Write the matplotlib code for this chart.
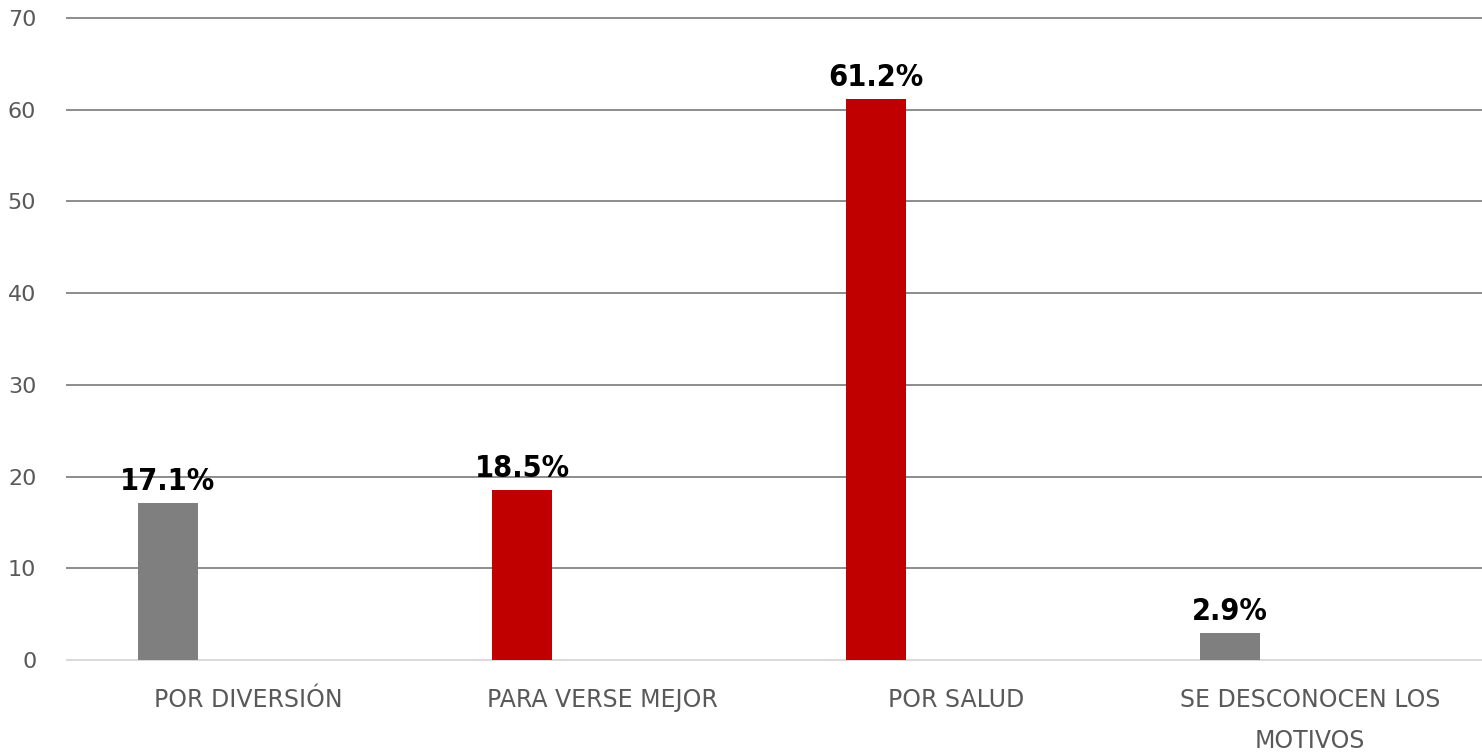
import matplotlib
matplotlib.use("Agg")
import matplotlib.pyplot as plt
import numpy as np

categories = ["POR DIVERSIÓN", "PARA VERSE MEJOR", "POR SALUD", "SE DESCONOCEN LOS\nMOTIVOS"]
values = [17.1, 18.5, 61.2, 2.9]
labels = ["17.1%", "18.5%", "61.2%", "2.9%"]
colors = ["#7f7f7f", "#c00000", "#c00000", "#7f7f7f"]
yticks = [0, 10, 20, 30, 40, 50, 60, 70]

fig = plt.figure(figsize=(14.82, 7.52), dpi=100)
ax = fig.add_axes([0.0479, 0.1223, 0.9555, 0.8538])

x = np.arange(len(categories))
offset = -0.226
bars = ax.bar(x + offset, values, width=0.17, color=colors, zorder=3)

for b, lab in zip(bars, labels):
    ax.annotate(lab, (b.get_x() + b.get_width() / 2, b.get_height()),
                xytext=(0, 5), textcoords="offset points", ha="center", va="bottom",
                fontsize=22, fontweight="bold", fontstretch="condensed",
                family="DejaVu Sans", color="black", zorder=4)

ax.set_xlim(-0.5, 3.5)
ax.set_ylim(0, 70)
ax.set_yticks(yticks)
ax.set_xticks(x)
ax.set_xticklabels(categories, linespacing=1.9, va="top")
ax.tick_params(axis="x", length=0, pad=20, labelsize=17, labelcolor="#595959")
ax.tick_params(axis="y", length=0, pad=25, labelsize=16, labelcolor="#595959")

for y in yticks[1:]:
    ax.axhline(y, xmin=-0.003, color="#8c8c8c", lw=1.4, zorder=1, clip_on=False)
ax.axhline(0, xmin=-0.003, color="#d9d9d9", lw=1.4, zorder=2, clip_on=False)

for s in ax.spines.values():
    s.set_visible(False)

fig.savefig("out.png", dpi=100)
